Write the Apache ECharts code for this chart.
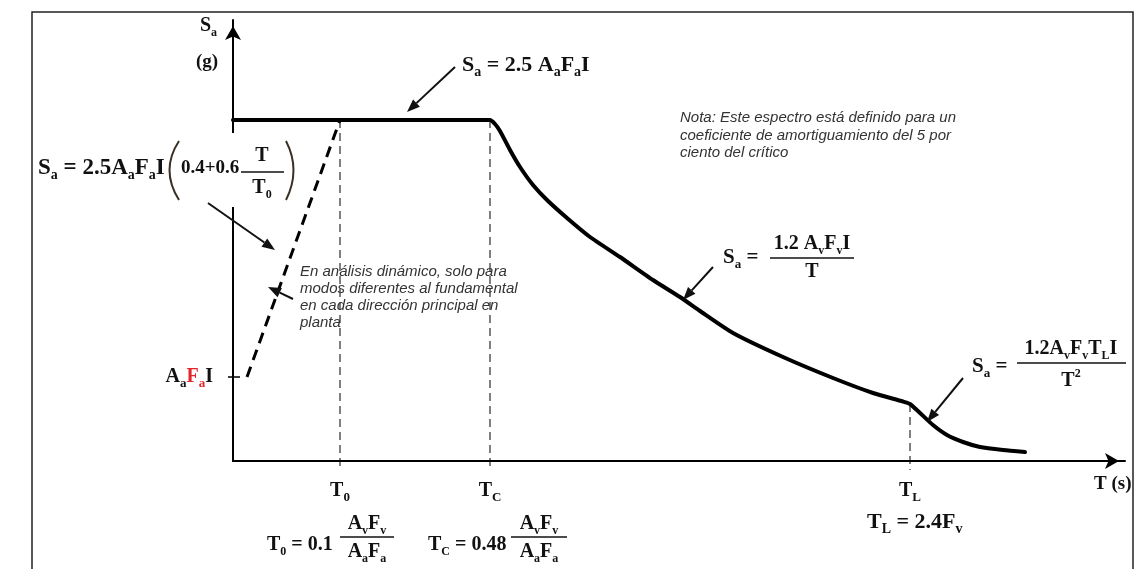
<!DOCTYPE html>
<html lang="es">
<head>
    <meta charset="UTF-8">
    <title>Espectro elástico de aceleraciones de diseño</title>
    <style>
        html, body {
            margin: 0;
            padding: 0;
            background: #fff;
        }

        #chart {
            width: 1139px;
            height: 569px;
        }
    </style>
    <script src="https://cdn.jsdelivr.net/npm/echarts@6.0.0/dist/echarts.min.js"></script>
</head>
<body>
<div id="chart"></div>

<script>
    // periodos caracteristicos (unidades del esquema, no a escala)
    var T0 = 1.07, TC = 2.57, TL = 6.77;
    // ordenadas caracteristicas
    var plateauSa = 3.41;
    var aafaiSa = 0.84;

    // tramo continuo: meseta + descenso 1/T + descenso 1/T^2
    var curveT = [0, 2.57, 2.62, 2.67, 2.77, 2.87, 3.00, 3.14, 3.34, 3.57, 3.87, 4.20, 4.47, 4.67, 5.00,
        5.50, 6.00, 6.40, 6.70, 6.77, 6.86, 7.00, 7.14, 7.30, 7.47, 7.70, 7.92];
    var curveSa = [3.41, 3.41, 3.37, 3.30, 3.11, 2.94, 2.76, 2.61, 2.43, 2.24, 2.04, 1.81, 1.64, 1.50, 1.28,
        1.04, 0.83, 0.68, 0.595, 0.57, 0.49, 0.36, 0.26, 0.19, 0.14, 0.11, 0.09];

    // rampa discontinua (analisis dinamico)
    var rampT = [0.14, 1.07];
    var rampSa = [0.84, 3.41];

    // lineas verticales de referencia
    var refT = [T0, TC, TL];
    var refTop = [3.41, 3.41, 0.57];
    var refBottom = [-0.07, -0.05, -0.09];
    var refNames = ['0', 'C', 'L'];

    var serif = '"Liberation Serif", "Times New Roman", serif';
    var sans = '"Liberation Sans", Arial, sans-serif';
    var ink = '#111';
    var red = '#e3262b';

    var chart = echarts.init(document.getElementById('chart'));

    // estilos rich para textos de graphic (zrender usa fill)
    function mathRich(size) {
        var sub = Math.round(size * 0.62);
        return {
            m: {fontFamily: serif, fontWeight: 'bold', fontSize: size, fill: ink, lineHeight: size + 6, verticalAlign: 'middle'},
            s: {fontFamily: serif, fontWeight: 'bold', fontSize: sub, fill: ink, lineHeight: sub, verticalAlign: 'bottom'},
            p: {fontFamily: serif, fontWeight: 'bold', fontSize: sub, fill: ink, lineHeight: sub, verticalAlign: 'top'},
            r: {fontFamily: serif, fontWeight: 'bold', fontSize: size, fill: red, lineHeight: size + 6, verticalAlign: 'middle'},
            rs: {fontFamily: serif, fontWeight: 'bold', fontSize: sub, fill: red, lineHeight: sub, verticalAlign: 'bottom'}
        };
    }

    // estilos rich para etiquetas de ejes (echarts usa color)
    var axisRich = {
        m: {fontFamily: serif, fontWeight: 'bold', fontSize: 20, color: ink, lineHeight: 26, verticalAlign: 'middle'},
        s: {fontFamily: serif, fontWeight: 'bold', fontSize: 13, color: ink, lineHeight: 13, verticalAlign: 'bottom'},
        r: {fontFamily: serif, fontWeight: 'bold', fontSize: 20, color: red, lineHeight: 26, verticalAlign: 'middle'},
        rs: {fontFamily: serif, fontWeight: 'bold', fontSize: 13, color: red, lineHeight: 13, verticalAlign: 'bottom'}
    };

    function tex(x, y, str, align, size) {
        size = size || 20;
        return {
            type: 'text', x: x, y: y, z: 101, silent: true,
            style: {
                text: str, rich: mathRich(size), fill: ink,
                font: 'bold ' + size + 'px ' + serif,
                align: align || 'left', verticalAlign: 'middle',
                textAlign: align || 'left', textVerticalAlign: 'middle'
            }
        };
    }

    function note(x, y, str) {
        return {
            type: 'text', x: x, y: y, z: 101, silent: true,
            style: {
                text: str, fill: '#333', font: 'italic 15px ' + sans,
                align: 'left', verticalAlign: 'middle', textAlign: 'left', textVerticalAlign: 'middle'
            }
        };
    }

    function bar(x1, x2, y) {
        return {type: 'line', z: 101, silent: true, shape: {x1: x1, y1: y, x2: x2, y2: y}, style: {stroke: ink, lineWidth: 1.5}};
    }

    // flecha con punta rellena
    function arrow(x1, y1, x2, y2) {
        var a = Math.atan2(y2 - y1, x2 - x1);
        var len = 13, half = 5;
        var bx = x2 - len * Math.cos(a), by = y2 - len * Math.sin(a);
        return [
            {type: 'line', z: 101, silent: true, shape: {x1: x1, y1: y1, x2: bx, y2: by}, style: {stroke: ink, lineWidth: 2}},
            {
                type: 'polygon', z: 101, silent: true,
                shape: {points: [[x2, y2], [bx + half * Math.sin(a), by - half * Math.cos(a)], [bx - half * Math.sin(a), by + half * Math.cos(a)]]},
                style: {fill: ink}
            }
        ];
    }

    var graphics = [
        // marco
        {type: 'polyline', z: 99, silent: true, shape: {points: [[32, 569], [32, 12], [1133, 12], [1133, 569]]}, style: {stroke: '#222', lineWidth: 1.5, fill: null}},
        // fondo blanco de la formula izquierda (tapa el eje)
        {type: 'rect', z: 100, silent: true, shape: {x: 36, y: 133, width: 262, height: 74}, style: {fill: '#fff'}},

        // nombre de los ejes
        tex(200, 26, '{m|S}{s|a}', 'left'),
        tex(207, 62, '{m|(g)}', 'center', 19),
        tex(1094, 484, '{m|T (s)}', 'left', 19),

        // Sa = 2.5 AaFaI
        tex(462, 65, '{m|S}{s|a}{m| = 2.5 A}{s|a}{m|F}{s|a}{m|I}', 'left', 22),

        // Sa = 2.5AaFaI(0.4 + 0.6 T/T0)
        tex(38, 168, '{m|S}{s|a}{m| = 2.5A}{s|a}{m|F}{s|a}{m|I}', 'left', 23),
        {type: 'bezierCurve', z: 101, silent: true, shape: {x1: 179, y1: 141, cpx1: 160, cpy1: 170, x2: 179, y2: 200}, style: {stroke: '#3a3026', lineWidth: 2, fill: null}},
        tex(181, 168, '{m|0.4+0.6}', 'left', 19),
        tex(262, 156, '{m|T}', 'center'),
        bar(241, 284, 172),
        tex(262, 188, '{m|T}{s|0}', 'center'),
        {type: 'bezierCurve', z: 101, silent: true, shape: {x1: 286, y1: 141, cpx1: 301, cpy1: 170, x2: 286, y2: 200}, style: {stroke: '#3a3026', lineWidth: 2, fill: null}},

        // Sa = 1.2 AvFvI / T
        tex(723, 258, '{m|S}{s|a}{m| =}', 'left', 21),
        tex(812, 244, '{m|1.2 A}{s|v}{m|F}{s|v}{m|I}', 'center'),
        bar(770, 854, 258),
        tex(812, 272, '{m|T}', 'center'),

        // Sa = 1.2AvFvTLI / T^2
        tex(972, 367, '{m|S}{s|a}{m| =}', 'left', 21),
        tex(1071, 349, '{m|1.2A}{s|v}{m|F}{s|v}{m|T}{s|L}{m|I}', 'center'),
        bar(1017, 1126, 363),
        tex(1071, 381, '{m|T}{p|2}', 'center'),

        // TL = 2.4Fv
        tex(867, 522, '{m|T}{s|L}{m| = 2.4F}{s|v}', 'left', 22),

        // T0 = 0.1 AvFv / AaFa
        tex(267, 545, '{m|T}{s|0}{m| = 0.1}', 'left'),
        tex(367, 524, '{m|A}{s|v}{m|F}{s|v}', 'center'),
        bar(340, 394, 537),
        tex(367, 552, '{m|A}{s|a}{m|F}{s|a}', 'center'),

        // TC = 0.48 AvFv / AaFa
        tex(428, 545, '{m|T}{s|C}{m| = 0.48}', 'left'),
        tex(539, 524, '{m|A}{s|v}{m|F}{s|v}', 'center'),
        bar(511, 567, 537),
        tex(539, 552, '{m|A}{s|a}{m|F}{s|a}', 'center'),

        // notas
        note(680, 118, 'Nota: Este espectro está definido para un'),
        note(680, 136, 'coeficiente de amortiguamiento del 5 por'),
        note(680, 153, 'ciento del crítico'),
        note(300, 272, 'En análisis dinámico, solo para'),
        note(300, 289, 'modos diferentes al fundamental'),
        note(300, 306, 'en cada dirección principal en'),
        note(300, 323, 'planta')
    ];
    graphics = graphics
        .concat(arrow(455, 67, 407, 112))
        .concat(arrow(208, 203, 275, 250))
        .concat(arrow(293, 299, 268, 287))
        .concat(arrow(713, 267, 683, 300))
        .concat(arrow(963, 378, 927, 422));

    // series
    var series = [
        {
            name: 'Espectro', type: 'line', silent: true, showSymbol: false, z: 5,
            smooth: 0.2,
            data: curveT.map(function (t, i) { return [t, curveSa[i]]; }),
            lineStyle: {color: '#000', width: 4, join: 'round', cap: 'round'}
        },
        {
            name: 'Rampa', type: 'line', silent: true, showSymbol: false, z: 4,
            data: rampT.map(function (t, i) { return [t, rampSa[i]]; }),
            lineStyle: {color: '#000', width: 3, type: [11, 7]}
        }
    ];
    for (var i = 0; i < refT.length; i++) {
        series.push({
            name: 'T' + refNames[i], type: 'line', silent: true, showSymbol: false, clip: false, z: 3,
            data: [[refT[i], refTop[i]], [refT[i], refBottom[i]]],
            lineStyle: {color: '#000', width: 1, type: [8, 5]}
        });
    }

    var option = {
        animation: false,
        backgroundColor: '#fff',
        grid: {left: 233, right: 14, top: 20, bottom: 108},
        xAxis: {
            type: 'value', min: 0, max: 8.92,
            axisLine: {lineStyle: {color: '#000', width: 2}, symbol: ['none', 'arrow'], symbolSize: [12, 14], symbolOffset: [0, -6]},
            axisTick: {show: false},
            splitLine: {show: false},
            axisLabel: {
                customValues: refT, margin: 17, rich: axisRich,
                formatter: function (v) {
                    var k = refT.indexOf(v);
                    return k < 0 ? '' : '{m|T}{s|' + refNames[k] + '}';
                }
            }
        },
        yAxis: [
            {
                type: 'value', min: 0, max: 4.41,
                axisLine: {show: true, lineStyle: {color: '#000', width: 2}, symbol: ['none', 'arrow'], symbolSize: [12, 14], symbolOffset: [0, -6]},
                axisTick: {show: true, customValues: [aafaiSa], length: 5, lineStyle: {color: '#000', width: 1.5}},
                splitLine: {show: false},
                axisLabel: {
                    customValues: [aafaiSa], margin: 20, rich: axisRich,
                    formatter: function () { return '{m|A}{s|a}{r|F}{rs|a}{m|I}'; }
                }
            },
            {
                type: 'value', min: 0, max: 4.41, position: 'left',
                axisLine: {show: false},
                axisTick: {show: true, inside: true, customValues: [aafaiSa], length: 7, lineStyle: {color: '#000', width: 1.5}},
                splitLine: {show: false},
                axisLabel: {show: false}
            }
        ],
        series: series,
        graphic: {elements: graphics}
    };

    chart.setOption(option);
</script>
</body>
</html>
